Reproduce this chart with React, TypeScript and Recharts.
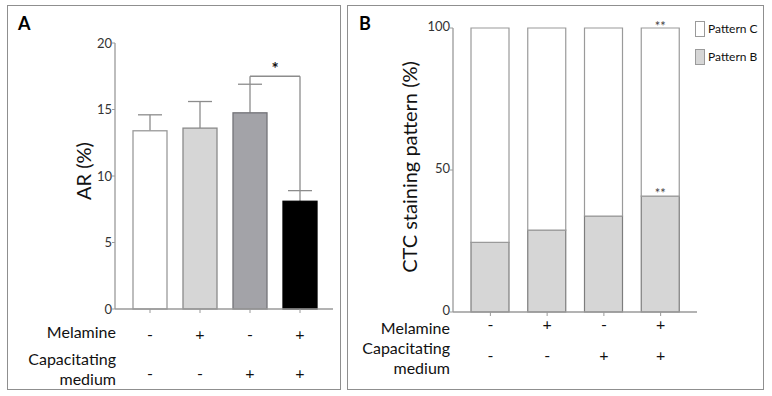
import React from "react";
import { BarChart, Bar, XAxis, YAxis, ReferenceLine, LabelList } from "recharts";

// treatment groups, shared by both panels
const groups = ["g1", "g2", "g3", "g4"];
const melamine = ["-", "+", "-", "+"];
const capacitating = ["-", "-", "+", "+"];

// panel A: acrosome reaction (%)
const arMean = [13.4, 13.6, 14.75, 8.1];
const arSem = [1.2, 2.0, 2.15, 0.8];
const arTicks = [0, 5, 10, 15, 20];
const arFill = ["#ffffff", "#d6d6d6", "#a3a3a8", "#000000"];
const arStroke = ["#9a9a9a", "#8a8a8a", "#737378", "#000000"];
const bracketY = 17.5;

// panel B: CTC staining pattern (%)
const patternB = [24.5, 28.8, 33.8, 40.8];
const patternC = [75.5, 71.2, 66.2, 59.2];
const sigB = ["", "", "", "**"];
const sigC = ["", "", "", "**"];
const ctcTicks = [0, 50, 100];

const legendItems = [
  { name: "Pattern C", fill: "#ffffff" },
  { name: "Pattern B", fill: "#d6d6d6" },
];

const FONT = "Lato, 'Open Sans', sans-serif";
const AXIS = "#9a9a9a";
const TICK_TEXT = "#333333";

const arData = groups.map((g, i) => ({
  group: g,
  ar: arMean[i],
  sem: arSem[i],
  top: arMean[i] + arSem[i],
}));

const ctcData = groups.map((g, i) => ({
  group: g,
  patternB: patternB[i],
  patternC: patternC[i],
  sigB: sigB[i],
  sigC: sigC[i],
}));

// bar with an upward-only whisker, sized from the bar's own scale
function ArBar(props: any) {
  const { x, y, width, height, index, payload } = props;
  const perUnit = payload.ar ? height / payload.ar : 0;
  const errTop = y - payload.sem * perUnit;
  const cx = x + width / 2;
  return (
    <g>
      <line x1={cx} x2={cx} y1={y} y2={errTop} stroke="#8c8c8c" strokeWidth={1.3} />
      <line x1={cx - 12} x2={cx + 12} y1={errTop} y2={errTop} stroke="#8c8c8c" strokeWidth={1.3} />
      <rect
        x={x}
        y={y}
        width={width}
        height={height}
        fill={arFill[index]}
        stroke={arStroke[index]}
        strokeWidth={1.3}
      />
    </g>
  );
}

// +/- rows under each group; the first tick also writes the row names
function SignTick(props: any) {
  const { x, y, index, cfg } = props;
  const signStyle = { fontSize: 16, fill: "#111", fontFamily: FONT };
  return (
    <g>
      <text x={x} y={y + cfg.row1} textAnchor="middle" dominantBaseline="central" style={signStyle}>
        {melamine[index]}
      </text>
      <text x={x} y={y + cfg.row2} textAnchor="middle" dominantBaseline="central" style={signStyle}>
        {capacitating[index]}
      </text>
      {index === 0 && (
        <g style={{ fontSize: 16, fill: "#111", fontFamily: FONT }}>
          <text x={cfg.labelX} y={y + cfg.l1} textAnchor="end">Melamine</text>
          <text x={cfg.labelX} y={y + cfg.l2} textAnchor="end">Capacitating</text>
          <text x={cfg.labelX} y={y + cfg.l3} textAnchor="end">medium</text>
        </g>
      )}
    </g>
  );
}

function AxisTitle({ text, cx, cy, size }: any) {
  return (
    <text
      x={cx}
      y={cy}
      transform={`rotate(-90, ${cx}, ${cy})`}
      textAnchor="middle"
      dominantBaseline="central"
      style={{ fontSize: size, fill: "#111", fontFamily: FONT }}
    >
      {text}
    </text>
  );
}

const panelFrame = (left: number, width: number): React.CSSProperties => ({
  position: "absolute",
  left,
  top: 5,
  width,
  height: 385,
  border: "1.5px solid #8f8f8f",
  boxSizing: "border-box",
});

const panelLetter = (left: number): React.CSSProperties => ({
  position: "absolute",
  left,
  top: 14,
  fontSize: 18,
  fontWeight: 700,
  lineHeight: "18px",
  fontFamily: FONT,
  color: "#000",
});

export default function App() {
  return (
    <div
      style={{
        position: "absolute",
        left: 0,
        top: 0,
        width: 772,
        height: 396,
        background: "#fff",
        fontFamily: FONT,
      }}
    >
      <div style={panelFrame(7, 334)} />
      <div style={panelFrame(347, 417)} />
      <div style={panelLetter(18)}>A</div>
      <div style={panelLetter(359)}>B</div>

      {/* A: acrosome reaction */}
      <div style={{ position: "absolute", left: 7, top: 5 }}>
        <BarChart width={333} height={385} data={arData} margin={{ top: 38, right: 7, left: 0, bottom: 0 }}>
          <XAxis
            dataKey="group"
            height={81}
            padding={{ left: 10, right: 8 }}
            axisLine={{ stroke: AXIS, strokeWidth: 1.3 }}
            tickLine={{ stroke: AXIS }}
            tickSize={4}
            tickMargin={0}
            interval={0}
            tick={<SignTick cfg={{ row1: 20, row2: 59, l1: 25, l2: 52, l3: 72, labelX: 109 }} />}
          />
          <YAxis
            width={108}
            domain={[0, 20]}
            ticks={arTicks}
            interval={0}
            axisLine={{ stroke: AXIS, strokeWidth: 1.3 }}
            tickLine={{ stroke: AXIS }}
            tickSize={3}
            tickMargin={0}
            tick={{ fontSize: 13, fill: TICK_TEXT, fontFamily: FONT }}
            label={<AxisTitle text="AR (%)" cx={76} cy={166} size={20} />}
          />
          <Bar dataKey="ar" barSize={34} shape={<ArBar />} isAnimationActive={false} />
          <ReferenceLine
            segment={[{ x: "g3", y: arData[2].top }, { x: "g3", y: bracketY }]}
            stroke="#8c8c8c"
            strokeWidth={1.3}
            ifOverflow="visible"
          />
          <ReferenceLine
            segment={[{ x: "g3", y: bracketY }, { x: "g4", y: bracketY }]}
            stroke="#8c8c8c"
            strokeWidth={1.3}
            ifOverflow="visible"
            label={{ value: "*", position: "top", offset: 1, fontSize: 17, fontWeight: 700, fill: "#111", fontFamily: FONT }}
          />
          <ReferenceLine
            segment={[{ x: "g4", y: bracketY }, { x: "g4", y: arData[3].top }]}
            stroke="#8c8c8c"
            strokeWidth={1.3}
            ifOverflow="visible"
          />
        </BarChart>
      </div>

      {/* B: CTC staining */}
      <div style={{ position: "absolute", left: 347, top: 5 }}>
        <BarChart width={416} height={385} data={ctcData} margin={{ top: 23, right: 66, left: 0, bottom: 0 }}>
          <XAxis
            dataKey="group"
            height={78}
            padding={{ left: 9, right: 8 }}
            axisLine={{ stroke: AXIS, strokeWidth: 1.3 }}
            tickLine={{ stroke: AXIS }}
            tickSize={4}
            tickMargin={0}
            interval={0}
            tick={<SignTick cfg={{ row1: 7, row2: 38, l1: 18, l2: 38, l3: 58, labelX: 103 }} />}
          />
          <YAxis
            width={106}
            domain={[0, 100]}
            ticks={ctcTicks}
            interval={0}
            axisLine={{ stroke: AXIS, strokeWidth: 1.3 }}
            tickLine={{ stroke: AXIS }}
            tickSize={3}
            tickMargin={0}
            tick={{ fontSize: 13, fill: TICK_TEXT, fontFamily: FONT, dy: -2 }}
            label={<AxisTitle text="CTC staining pattern (%)" cx={62} cy={162} size={20} />}
          />
          <Bar dataKey="patternB" stackId="s" barSize={38} fill="#d6d6d6" stroke="#7d7d7d" strokeWidth={1.2} isAnimationActive={false}>
            <LabelList dataKey="sigB" position="top" offset={-2} style={{ fontSize: 13, fill: "#444", fontFamily: FONT }} />
          </Bar>
          <Bar dataKey="patternC" stackId="s" barSize={38} fill="#ffffff" stroke="#9a9a9a" strokeWidth={1.2} isAnimationActive={false}>
            <LabelList dataKey="sigC" position="top" offset={-3} style={{ fontSize: 13, fill: "#444", fontFamily: FONT }} />
          </Bar>
        </BarChart>
      </div>

      {/* legend for panel B */}
      <div style={{ position: "absolute", left: 695, top: 21, fontFamily: FONT, fontSize: 12, color: "#111" }}>
        {legendItems.map((item) => (
          <div key={item.name} style={{ display: "flex", alignItems: "center", height: 15, marginBottom: 13, whiteSpace: "nowrap" }}>
            <span
              style={{
                display: "inline-block",
                width: 8,
                height: 14,
                background: item.fill,
                border: "1px solid #9a9a9a",
                marginRight: 3,
              }}
            />
            <span>{item.name}</span>
          </div>
        ))}
      </div>
    </div>
  );
}
